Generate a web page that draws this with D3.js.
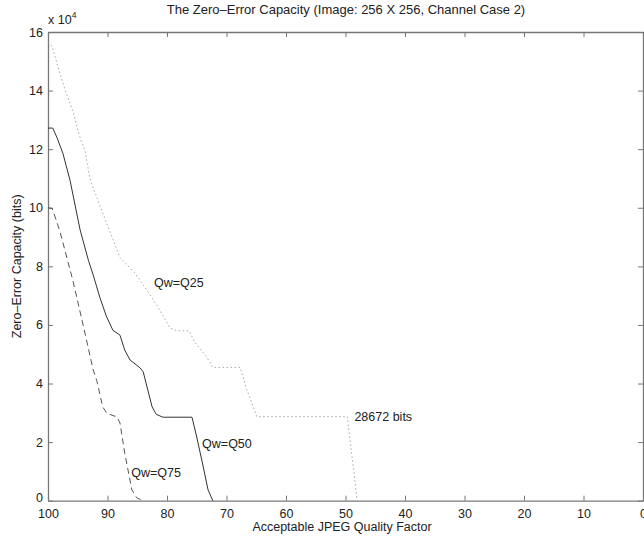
<!DOCTYPE html>
<html>
<head>
<meta charset="utf-8">
<script src="https://cdn.jsdelivr.net/npm/d3@7"></script>
<style>
  body { margin: 0; background: #fff; }
  svg { display: block; font-family: "Liberation Sans", Arial, sans-serif; }
</style>
</head>
<body>
<svg id="chart" width="644" height="540"></svg>
<script>
// quality factor, capacity (x 10^4 bits)
const q25 = [[100,15.65],[99.3,15.5],[98.3,14.8],[97.1,14.0],[95.8,13.3],[94.8,12.5],[93.8,11.96],[92.9,10.94],[91.5,10.2],[90,9.4],[87.9,8.3],[85.5,7.8],[83.4,7.2],[81.2,6.5],[79.5,5.9],[78.3,5.8],[76.3,5.8],[75.3,5.4],[73.3,4.9],[72.3,4.55],[67.7,4.55],[66.6,3.8],[65.5,3.2],[64.9,2.8672],[49.7,2.8672],[49.2,2.0],[48.6,1.0],[48.1,0.1],[48,0]];
const q50 = [[100,12.72],[99.2,12.72],[98.5,12.4],[97.5,11.86],[96.3,10.94],[94.6,9.24],[93.2,8.2],[92.4,7.7],[91.3,6.95],[90.2,6.3],[89.1,5.82],[87.9,5.65],[87.1,5.14],[86.2,4.8],[84.5,4.53],[84,4.4],[82.5,3.2],[81.8,2.95],[80.7,2.85],[75.8,2.85],[75.0,2.17],[73.9,1.15],[73.1,0.37],[72.3,0]];
const q75 = [[100,10.0],[99.3,9.98],[98,9.2],[95.8,7.5],[94.1,6.0],[92.4,4.46],[91.8,4.1],[90.8,3.2],[90.1,2.98],[88.4,2.86],[87.9,2.65],[87.1,1.62],[85.9,0.37],[85.1,0.1],[84,0]];

const xTicks = [100, 90, 80, 70, 60, 50, 40, 30, 20, 10, 0];
const yTicks = [0, 2, 4, 6, 8, 10, 12, 14, 16];

const labels = [
  {text: "Qw=Q25", q: 82.2, v: 7.45},
  {text: "Qw=Q50", q: 74.1, v: 1.95},
  {text: "Qw=Q75", q: 86.0, v: 0.95},
  {text: "28672 bits", q: 48.5, v: 2.8672}
];

const svg = d3.select("#chart");
const mLeft = 48, mRight = 643, mTop = 32, mBottom = 500.7;
const fs = "12.5px";

const x = d3.scaleLinear().domain([100, 0]).range([mLeft, mRight]);
const y = d3.scaleLinear().domain([0, 16]).range([mBottom, mTop]);

const axisColor = "#777";

// inward ticks on all four sides, matlab style
const gx = svg.append("g").attr("transform", `translate(0,${mBottom})`)
  .call(d3.axisBottom(x).tickValues(xTicks).tickSizeInner(-5).tickSizeOuter(0).tickPadding(8));
const gy = svg.append("g").attr("transform", `translate(${mLeft},0)`)
  .call(d3.axisLeft(y).tickValues(yTicks).tickSizeInner(-5).tickSizeOuter(0).tickPadding(5));
const gt = svg.append("g").attr("transform", `translate(0,${mTop})`)
  .call(d3.axisTop(x).tickValues(xTicks).tickSizeInner(-5).tickSizeOuter(0).tickFormat(""));
const gr = svg.append("g").attr("transform", `translate(${mRight},0)`)
  .call(d3.axisRight(y).tickValues(yTicks).tickSizeInner(-5).tickSizeOuter(0).tickFormat(""));

[gx, gy, gt, gr].forEach(g => {
  g.select(".domain").attr("stroke", axisColor).attr("stroke-width", 1.3);
  g.selectAll(".tick line").attr("stroke", axisColor);
  g.selectAll(".tick text").attr("fill", "#222").style("font-size", fs);
});
// the 0 label sits a touch higher so it clears the 100 below it
gy.selectAll(".tick text").filter(d => d === 0).attr("dy", "0.1em");

const line = d3.line().x(d => x(d[0])).y(d => y(d[1]));

svg.append("path").datum(q25)
  .attr("fill", "none").attr("stroke", "#a8a8a8").attr("stroke-width", 1)
  .attr("stroke-dasharray", "1.5,2.5").attr("d", line);
svg.append("path").datum(q50)
  .attr("fill", "none").attr("stroke", "#333").attr("stroke-width", 1)
  .attr("d", line);
svg.append("path").datum(q75)
  .attr("fill", "none").attr("stroke", "#555").attr("stroke-width", 1)
  .attr("stroke-dasharray", "6,4").attr("d", line);

svg.selectAll("text.lbl")
  .data(labels)
  .join("text")
  .attr("class", "lbl")
  .attr("x", d => x(d.q))
  .attr("y", d => y(d.v))
  .attr("dy", "0.35em")
  .attr("fill", "#222")
  .style("font-size", fs)
  .text(d => d.text);

// exponent
const ex = svg.append("text").attr("x", mLeft).attr("y", 24).attr("fill", "#222").style("font-size", fs);
ex.append("tspan").text("x 10");
ex.append("tspan").attr("dy", -6).style("font-size", "8.5px").text("4");

svg.append("text")
  .attr("x", 346).attr("y", 14)
  .attr("text-anchor", "middle").attr("fill", "#222").style("font-size", "13px")
  .text("The Zero\u2013Error Capacity (Image: 256 X 256, Channel Case 2)");

svg.append("text")
  .attr("x", 342).attr("y", 531)
  .attr("text-anchor", "middle").attr("fill", "#222").style("font-size", fs)
  .text("Acceptable JPEG Quality Factor");

svg.append("text")
  .attr("transform", `translate(21,${(mTop + mBottom) / 2}) rotate(-90)`)
  .attr("text-anchor", "middle").attr("fill", "#222").style("font-size", fs)
  .text("Zero\u2013Error Capacity (bits)");
</script>
</body>
</html>
